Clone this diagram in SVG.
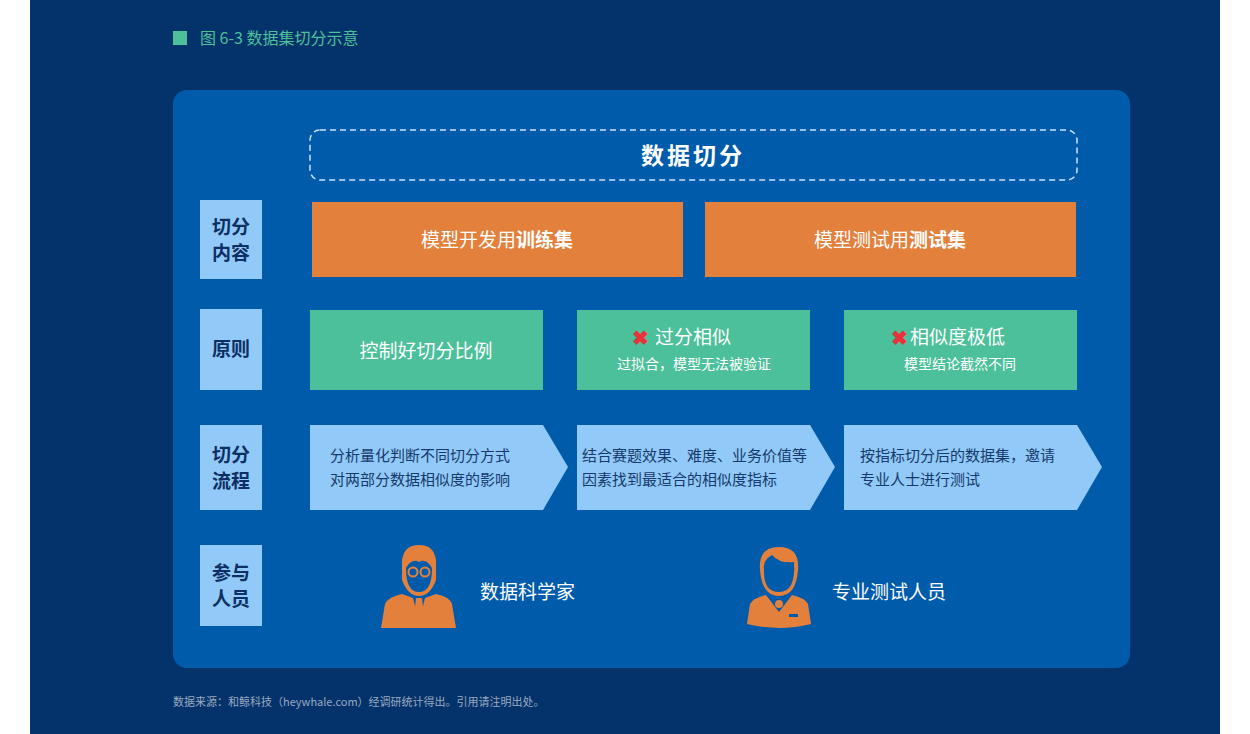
<svg xmlns="http://www.w3.org/2000/svg" width="1250" height="734" viewBox="0 0 1250 734">
<style>
text{font-family:"Noto Sans CJK SC","Noto Sans",sans-serif}
.lb{fill:#91caf8}
.lt{fill:#0d2f63;font-size:19px;font-weight:bold;text-anchor:middle}
.or{fill:#e3803c}
.gr{fill:#4cc09a}
.ar{fill:#91caf8}
.wt{fill:#fff;text-anchor:middle}
.at{fill:#17396b;font-size:15px}
.pp{fill:#e3803c}
</style>
<rect width="1250" height="734" fill="#fff"/>
<rect x="30" y="0" width="1190" height="734" fill="#04336b"/>
<rect x="173" y="31" width="14" height="14" fill="#4cc09a"/>
<text x="200" y="44" font-size="16" fill="#4cc09a">图 6-3 数据集切分示意</text>
<rect x="173" y="90" width="957" height="578" rx="14" fill="#005bab"/>
<g id="title"><rect x="310" y="130" width="767" height="50" rx="10" fill="none" stroke="#c9e2fa" stroke-width="1.5" stroke-dasharray="6 4"/>
<text x="693" y="164" class="wt" font-size="23" font-weight="bold" letter-spacing="3">数据切分</text></g>
<g id="labels">
<rect class="lb" x="200" y="200" width="62" height="79"/><text class="lt" x="231" y="234">切分</text><text class="lt" x="231" y="260">内容</text>
<rect class="lb" x="200" y="309" width="62" height="81"/><text class="lt" x="231" y="356">原则</text>
<rect class="lb" x="200" y="425" width="62" height="85"/><text class="lt" x="231" y="462">切分</text><text class="lt" x="231" y="488">流程</text>
<rect class="lb" x="200" y="545" width="62" height="81"/><text class="lt" x="231" y="580">参与</text><text class="lt" x="231" y="606">人员</text>
</g>
<g id="content">
<rect class="or" x="312" y="202" width="371" height="75"/><text class="wt" x="497" y="247" font-size="19">模型开发用<tspan font-weight="bold">训练集</tspan></text>
<rect class="or" x="705" y="202" width="371" height="75"/><text class="wt" x="890" y="247" font-size="19">模型测试用<tspan font-weight="bold">测试集</tspan></text>
</g>
<g id="principles">
<rect class="gr" x="310" y="310" width="233" height="80"/><text class="wt" x="426" y="358" font-size="19">控制好切分比例</text>
<rect class="gr" x="577" y="310" width="233" height="80"/>
<text x="640" y="345" font-size="20" fill="#e8323c" font-weight="bold" text-anchor="middle">✖</text>
<text x="655" y="344" fill="#fff" font-size="19">过分相似</text>
<text class="wt" x="694" y="369" font-size="14">过拟合，模型无法被验证</text>
<rect class="gr" x="844" y="310" width="233" height="80"/>
<text x="899" y="345" font-size="20" fill="#e8323c" font-weight="bold" text-anchor="middle">✖</text>
<text x="910" y="344" fill="#fff" font-size="19">相似度极低</text>
<text class="wt" x="960" y="369" font-size="14">模型结论截然不同</text>
</g>
<g id="process">
<polygon class="ar" points="310,425 543,425 568,467 543,510 310,510"/>
<text class="at" x="330" y="461">分析量化判断不同切分方式</text><text class="at" x="330" y="485">对两部分数据相似度的影响</text>
<polygon class="ar" points="577,425 810,425 835,467 810,510 577,510"/>
<text class="at" x="582" y="461">结合赛题效果、难度、业务价值等</text><text class="at" x="582" y="485">因素找到最适合的相似度指标</text>
<polygon class="ar" points="844,425 1077,425 1102,467 1077,510 844,510"/>
<text class="at" x="860" y="461">按指标切分后的数据集，邀请</text><text class="at" x="860" y="485">专业人士进行测试</text>
</g>
<g id="connectors"></g>
<g id="people">
<g id="scientist">
<path class="pp" d="M402,560 Q404,545 419,545 Q434,545 436,560 L436,580 Q430,596 419,596 Q408,596 402,580 Z"/>
<path d="M406,568 Q406,592 419,592 Q432,592 432,568 Q426,558 419,562 Q412,558 406,568 Z" fill="#005bab"/>
<circle cx="413" cy="572" r="4.5" fill="none" stroke="#e3803c" stroke-width="2"/>
<circle cx="425" cy="572" r="4.5" fill="none" stroke="#e3803c" stroke-width="2"/>
<path class="pp" d="M381,628 L385,604 Q388,597 402,594 L413,598 L419,622 L425,598 L436,594 Q450,597 452,604 L456,628 Z"/>
<path class="pp" d="M416,598 L422,598 L424,616 L419,622 L414,616 Z"/>
</g>
<text x="480" y="599" font-size="19" fill="#fff">数据科学家</text>
<g id="tester">
<path class="pp" d="M760,570 Q758,547 779,547 Q800,547 798,570 Q796,596 779,596 Q762,596 760,570 Z"/>
<path d="M764,572 Q762,560 772,555 Q780,564 794,562 Q796,592 779,592 Q764,592 764,572 Z" fill="#005bab"/>
<path class="pp" d="M747,624 L750,604 Q753,598 766,595 L779,612 L792,595 Q805,598 808,604 L811,624 Q779,632 747,624 Z"/>
<circle class="pp" cx="779" cy="604" r="4"/>
<rect x="789" y="614" width="9" height="3" fill="#005bab"/>
</g>
<text x="832" y="599" font-size="19" fill="#fff">专业测试人员</text>
</g>
<text x="173" y="706" font-size="11" fill="#9aa9c0">数据来源：和鲸科技（heywhale.com）经调研统计得出。引用请注明出处。</text>
</svg>
